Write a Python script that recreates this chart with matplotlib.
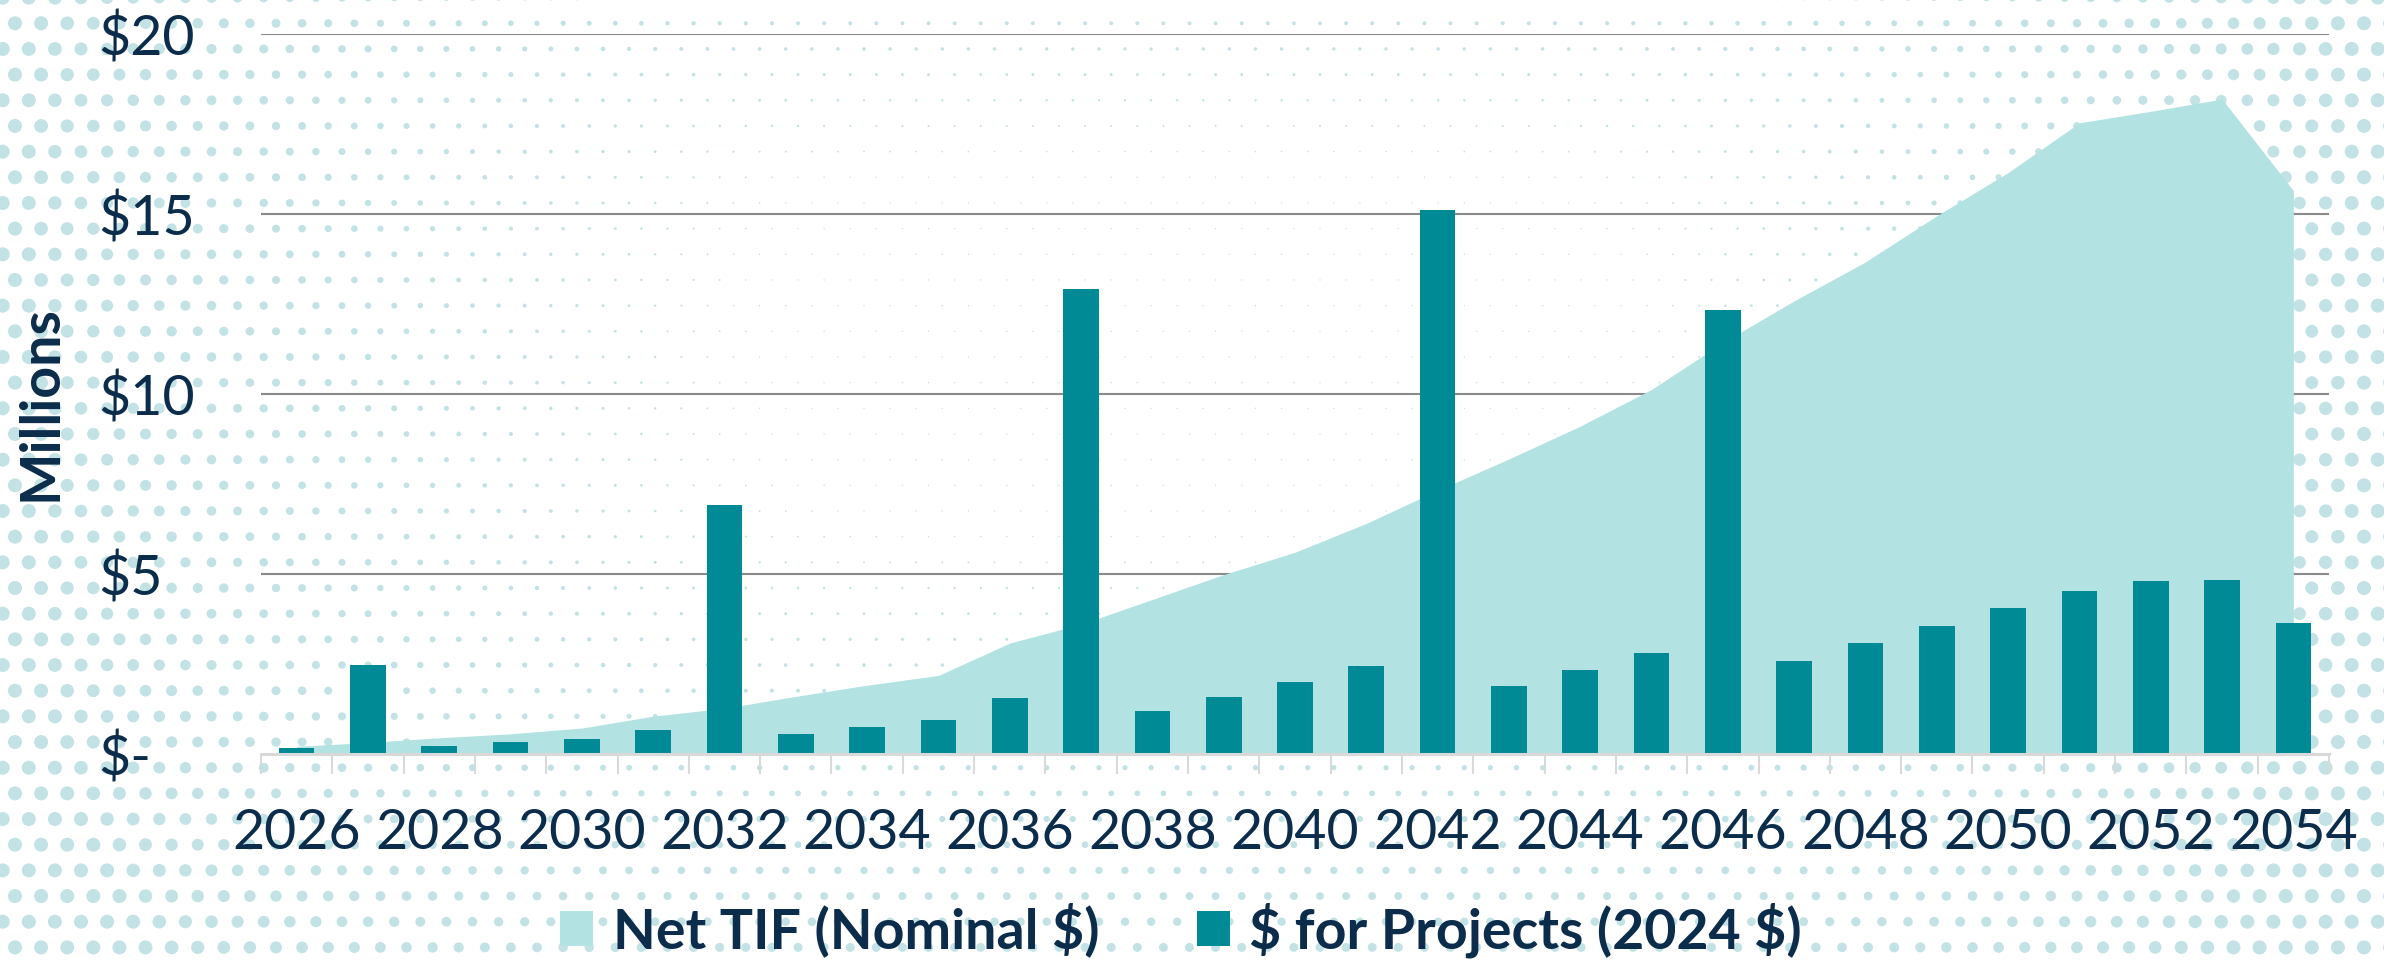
import numpy as np
import matplotlib
matplotlib.use("Agg")
import matplotlib.pyplot as plt
from matplotlib.patches import Patch

plt.rcParams['text.parse_math'] = False
plt.rcParams['font.family'] = ['Lato', 'DejaVu Sans']

# data ($ millions)
years = list(range(2026, 2055))
net_tif = [0.21, 0.32, 0.45, 0.56, 0.72, 1.05, 1.27, 1.60, 1.91, 2.18,
           3.08, 3.60, 4.29, 4.98, 5.60, 6.40, 7.32, 8.19, 9.10, 10.12,
           11.42, 12.58, 13.66, 14.94, 16.14, 17.52, 17.84, 18.18, 15.64]
projects = [0.17, 2.46, 0.21, 0.33, 0.43, 0.67, 6.90, 0.55, 0.75, 0.93,
            1.55, 12.92, 1.19, 1.59, 1.99, 2.45, 15.11, 1.88, 2.34, 2.80,
            12.33, 2.59, 3.07, 3.56, 4.05, 4.52, 4.81, 4.83, 3.64]
y_ticks = [0, 5, 10, 15, 20]
y_labels = ["$-", "$5", "$10", "$15", "$20"]
series_names = ["Net TIF (Nominal $)", "$ for Projects (2024 $)"]

area_c = '#b2e2e1'
bar_c = '#008a96'
text_c = '#0b2c4a'
dot_c = '#c2e2e5'

W, H = 2384, 961
fig = plt.figure(figsize=(W / 100, H / 100), dpi=100)

# halftone dot background, bigger dots towards the edges
bg = fig.add_axes([0, 0, 1, 1])
bg.set_xlim(0, W)
bg.set_ylim(H, 0)
bg.axis('off')
dx_step, dy_step = 26.1, 25.67
xs, ys, rs = [], [], []
for k in range(45):
    y = -2.4 + dy_step * k
    if y > H + 10:
        break
    x0 = 15 if k % 2 else 2.7
    for x in np.arange(x0 - dx_step, W + 20, dx_step):
        fx = abs(x - W / 2) / (W / 2)
        rx = 7.4 * fx ** 2.3
        rb = 4.6 * max(0, (y - 380) / 580) ** 1.4
        rt = 2.2 * max(0, (300 - y) / 300) ** 1.5
        r = max(np.sqrt(rx ** 2 + rb ** 2 + rt ** 2), 0.7)
        xs.append(x)
        ys.append(y)
        rs.append(min(r, 7.0))
rs = np.array(rs)
bg.scatter(xs, ys, s=(1.44 * rs) ** 2, color=dot_c, linewidths=0)

# main chart
ax = fig.add_axes([261 / W, 1 - 754 / H, (2329 - 261) / W, (754 - 33.5) / H])
ax.patch.set_alpha(0)
x = np.arange(len(years))
ax.fill_between(x, net_tif, color=area_c, lw=0, zorder=1)
ax.bar(x, projects, width=0.5, color=bar_c, zorder=2)
ax.set_xlim(-0.5, len(years) - 0.5)
ax.set_ylim(0, 20)

ax.set_yticks(y_ticks)
ax.set_yticklabels(y_labels)
ax.yaxis.grid(True, color='#8a8a8a', lw=1.5)
ax.set_axisbelow(True)
ax.get_ygridlines()[0].set_visible(False)
ax.tick_params(axis='y', length=0, pad=117, labelsize=40, labelcolor=text_c)
for lbl in ax.get_yticklabels():
    lbl.set_horizontalalignment('left')

ax.set_xticks(x)
ax.set_xticklabels([str(yr) if (yr - years[0]) % 2 == 0 else '' for yr in years])
ax.set_xticks(np.arange(-0.5, len(years), 1), minor=True)
ax.tick_params(axis='x', which='major', length=0, pad=39, labelsize=40, labelcolor=text_c)
ax.tick_params(axis='x', which='minor', length=14.4, width=1.5, color='#d9d9d9')

for s in ['left', 'right', 'top']:
    ax.spines[s].set_visible(False)
ax.spines['bottom'].set_color('#d9d9d9')
ax.spines['bottom'].set_linewidth(2.2)

fig.text(41 / W, 1 - 403 / H, 'Millions', rotation=90, ha='center', va='center',
         fontsize=40, fontweight='bold', color=text_c)

handles = [Patch(facecolor=area_c), Patch(facecolor=bar_c)]
fig.legend(handles, series_names, loc='center', bbox_to_anchor=(1181 / W, 1 - 930 / H),
           ncol=2, frameon=False, prop=dict(weight='bold', size=40),
           handlelength=0.6, handleheight=0.6, handletextpad=0.35,
           columnspacing=1.75, labelcolor=text_c, borderpad=0)

fig.savefig('out.png', dpi=100)
